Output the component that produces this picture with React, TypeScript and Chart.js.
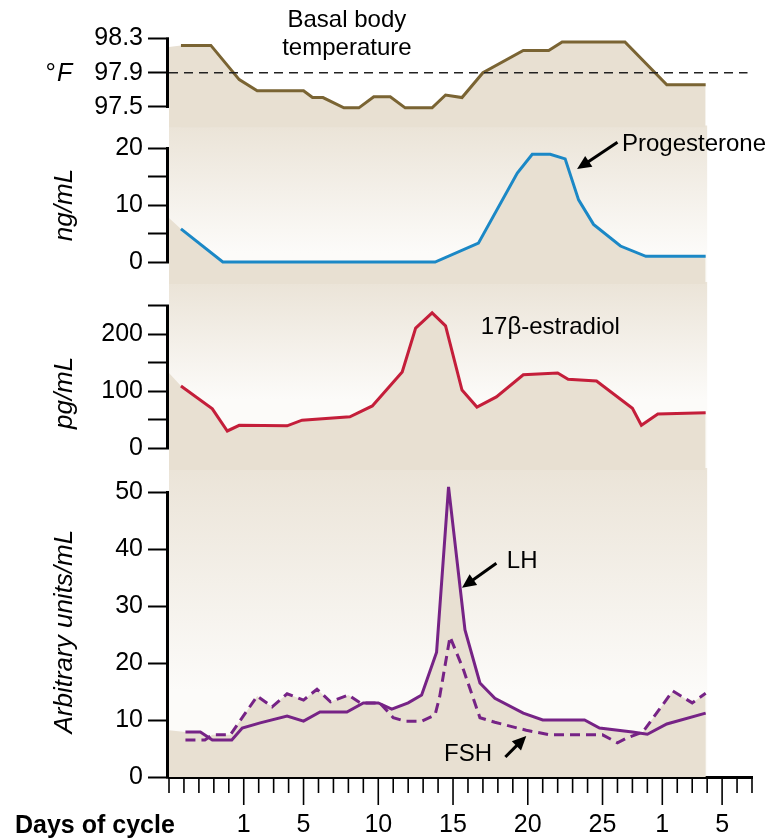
import React, { useEffect, useRef } from "react";
import { Chart, registerables } from "chart.js";

Chart.register(...registerables);

const FONT = "'Liberation Sans', Arial, Helvetica, sans-serif";

// x axis: day index, 0 = day 1 of the cycle, 28 = day 1 of next cycle
const axisStart = -5;
const axisEnd = 34;
const panelEnd = 31;
const majorTickDays = [0, 4, 9, 14, 19, 24, 28, 32];
const majorTickLabels = ["1", "5", "10", "15", "20", "25", "1", "5"];

// Basal body temperature (°F)
const tempDays = [-4.2, -2.2, -0.3, 0.9, 4.0, 4.6, 5.3, 6.7, 7.7, 8.7, 9.8, 10.8, 12.6, 13.5, 14.6, 16.0, 18.7, 20.4, 21.3, 25.5, 28.3, 30.9];
const tempValues = [98.22, 98.22, 97.82, 97.69, 97.69, 97.61, 97.61, 97.49, 97.49, 97.62, 97.62, 97.49, 97.49, 97.64, 97.61, 97.9, 98.16, 98.16, 98.26, 98.26, 97.76, 97.76];
const tempEdge = 98.2;
const tempRef = 97.9;
const tempTicks = [97.5, 97.9, 98.3];

// Progesterone (ng/mL)
const progDays = [-4.2, -1.4, 12.8, 15.7, 18.3, 19.3, 20.5, 21.5, 22.4, 23.4, 25.2, 26.9, 30.9];
const progValues = [5.8, 0, 0, 3.3, 15.6, 18.9, 18.9, 18.1, 10.9, 6.6, 2.8, 1.0, 1.0];
const progEdge = 7.7;
const progTicks = [0, 5, 10, 15, 20];
const progLabeled = [0, 10, 20];

// 17β-estradiol (pg/mL)
const estrDays = [-4.2, -2.1, -1.1, -0.3, 2.9, 3.9, 7.1, 8.6, 10.6, 11.5, 12.6, 13.5, 14.6, 15.6, 16.9, 18.7, 21.0, 21.7, 23.6, 26.0, 26.6, 27.7, 30.9];
const estrValues = [109, 69, 30, 40, 39, 49, 55, 74, 134, 211, 238, 215, 102, 72, 90, 129, 132, 121, 118, 70, 40, 60, 62];
const estrEdge = 132;
const estrTicks = [0, 50, 100, 150, 200, 250];
const estrLabeled = [0, 100, 200];

// LH (arbitrary units/mL)
const lhDays = [-3.9, -2.9, -2.1, -0.8, -0.1, 1.1, 2.9, 4.0, 5.1, 6.9, 8.0, 9.0, 9.9, 11.0, 11.9, 12.9, 13.7, 14.8, 15.8, 16.8, 18.7, 20.0, 22.8, 23.8, 26.0, 27.0, 28.3, 30.9];
const lhValues = [7.9, 7.9, 6.5, 6.5, 8.6, 9.5, 10.7, 9.8, 11.4, 11.4, 13.0, 13.0, 11.9, 13.0, 14.4, 21.9, 50.9, 25.8, 16.5, 13.8, 11.2, 10.0, 10.0, 8.6, 7.9, 7.5, 9.3, 11.2];
const lhEdge = 8.2;

// FSH (arbitrary units/mL)
const fshDays = [-3.9, -2.6, -2.1, -0.9, 0.9, 1.9, 2.9, 4.0, 4.9, 5.8, 7.0, 7.8, 9.1, 10.0, 10.8, 11.9, 12.8, 13.1, 13.8, 14.7, 15.8, 16.8, 18.9, 20.5, 24.0, 25.0, 25.6, 26.7, 28.7, 30.0, 30.9];
const fshValues = [6.5, 6.5, 7.4, 7.4, 14.2, 12.3, 14.6, 13.5, 15.4, 13.2, 14.4, 13.0, 13.0, 10.4, 9.8, 9.8, 10.9, 14.0, 24.6, 18.8, 10.4, 9.6, 8.2, 7.4, 7.4, 6.0, 6.8, 7.9, 15.1, 13.0, 14.7];
const gonTicks = [0, 10, 20, 30, 40, 50];

const BEIGE = "#e8e0d2";
const GRAD_TOP = "#ebe4d8";
const GRAD_BOTTOM = "#fcfbf9";

const pts = (d: number[], v: number[]) => d.map((x, i) => ({ x, y: v[i] }));

function lineDs(label: string, data: any[], axis: string, color: string, dash: number[] = []) {
  return {
    label,
    data,
    yAxisID: axis,
    borderColor: color,
    borderWidth: 3,
    borderDash: dash,
    pointRadius: 0,
    fill: "start",
    backgroundColor: BEIGE,
    tension: 0,
  };
}

function edgeDs(axis: string, edge: number, days: number[], values: number[]) {
  return {
    label: axis + "-edge",
    data: [{ x: axisStart, y: edge }, { x: days[0], y: values[0] }, { x: days[1], y: values[1] }],
    yAxisID: axis,
    borderColor: BEIGE,
    borderWidth: 0,
    pointRadius: 0,
    fill: "start",
    backgroundColor: BEIGE,
  };
}

function yScale(ticksArr: number[], labeled: number[], min: number, max: number, weight: number, stackWeight: number, fmt: (v: number) => string) {
  return {
    type: "linear",
    position: "left",
    stack: "panels",
    stackWeight,
    weight,
    min,
    max,
    border: { display: false },
    grid: { drawOnChartArea: false, drawTicks: true, tickLength: 21, tickWidth: 2, tickColor: "#000" },
    ticks: {
      autoSkip: false,
      font: { size: 25, family: FONT },
      color: "#000",
      padding: 5,
      callback: (v: number) => (labeled.includes(v) ? fmt(v) : ""),
    },
    afterBuildTicks: (s: any) => {
      s.ticks = ticksArr.map((v) => ({ value: v }));
    },
    afterFit: (s: any) => {
      s.width = 169;
    },
  };
}

function arrow(ctx: CanvasRenderingContext2D, x1: number, y1: number, x2: number, y2: number) {
  const ang = Math.atan2(y2 - y1, x2 - x1);
  const hl = 14;
  const hw = 6.5;
  ctx.strokeStyle = "#000";
  ctx.fillStyle = "#000";
  ctx.lineWidth = 3;
  ctx.beginPath();
  ctx.moveTo(x1, y1);
  ctx.lineTo(x2 - hl * 0.8 * Math.cos(ang), y2 - hl * 0.8 * Math.sin(ang));
  ctx.stroke();
  ctx.beginPath();
  ctx.moveTo(x2, y2);
  ctx.lineTo(x2 - hl * Math.cos(ang) + hw * Math.sin(ang), y2 - hl * Math.sin(ang) - hw * Math.cos(ang));
  ctx.lineTo(x2 - hl * Math.cos(ang) - hw * Math.sin(ang), y2 - hl * Math.sin(ang) + hw * Math.cos(ang));
  ctx.closePath();
  ctx.fill();
}

const decor = {
  id: "decor",
  beforeDraw(chart: any) {
    const { ctx, chartArea, scales } = chart;
    const x0 = chartArea.left;
    const x1 = scales.x.getPixelForValue(panelEnd);
    const stops: Record<string, number> = { prog: 0.8, estr: 0.62, lh: 0.72 };
    ctx.save();
    for (const id of ["prog", "estr", "lh"]) {
      const s = scales[id];
      const g = ctx.createLinearGradient(0, s.top, 0, s.bottom);
      g.addColorStop(0, GRAD_TOP);
      g.addColorStop(stops[id], GRAD_BOTTOM);
      g.addColorStop(1, GRAD_BOTTOM);
      ctx.fillStyle = g;
      ctx.fillRect(x0, s.top - 2, x1 - x0, s.bottom - s.top + 2);
    }
    ctx.restore();
  },
  afterDraw(chart: any) {
    const { ctx, chartArea, scales } = chart;
    const X = (v: number) => scales.x.getPixelForValue(v);
    const Y = (id: string, v: number) => scales[id].getPixelForValue(v);
    ctx.save();
    // y axis lines per panel
    ctx.strokeStyle = "#000";
    ctx.lineWidth = 3;
    const axes: [string, number[]][] = [
      ["temp", tempTicks],
      ["prog", progTicks],
      ["estr", estrTicks],
      ["lh", gonTicks],
    ];
    for (const [id, t] of axes) {
      ctx.beginPath();
      const top = Y(id, t[t.length - 1]);
      const bot = Y(id, t[0]);
      ctx.moveTo(chartArea.left - 1.5, top - 1);
      ctx.lineTo(chartArea.left - 1.5, id === "lh" ? bot + 1.5 : bot + 1);
      ctx.stroke();
    }
    // x tick marks
    ctx.lineWidth = 1.6;
    const base = scales.x.top;
    for (let d = axisStart; d <= axisEnd; d++) {
      const major = majorTickDays.includes(d);
      const px = X(d);
      ctx.beginPath();
      ctx.moveTo(px, base);
      ctx.lineTo(px, base + (major ? 28 : 16));
      ctx.stroke();
    }
    // axis titles
    ctx.fillStyle = "#000";
    ctx.textBaseline = "middle";
    ctx.font = `bold 25px ${FONT}`;
    ctx.textAlign = "left";
    ctx.fillText("Days of cycle", 15, 826);

    ctx.font = `italic 25px ${FONT}`;
    ctx.textAlign = "left";
    ctx.fillText("F", 57, Y("temp", 97.9) + 1);
    ctx.font = `26px ${FONT}`;
    ctx.textAlign = "right";
    ctx.fillText("°", 56, Y("temp", 97.9) + 1);

    const rotTitle = (text: string, cy: number) => {
      ctx.save();
      ctx.translate(65, cy);
      ctx.rotate(-Math.PI / 2);
      ctx.font = `italic 26px ${FONT}`;
      ctx.textAlign = "center";
      ctx.textBaseline = "middle";
      ctx.fillText(text, 0, 0);
      ctx.restore();
    };
    rotTitle("ng/mL", Y("prog", 10));
    rotTitle("pg/mL", Y("estr", 97));
    rotTitle("Arbitrary units/mL", Y("lh", 25.5));

    // annotations
    ctx.font = `24px ${FONT}`;
    ctx.textAlign = "center";
    ctx.textBaseline = "middle";
    ctx.fillText("Basal body", X(6.9), Y("temp", 98.515));
    ctx.fillText("temperature", X(6.9), Y("temp", 98.19));

    ctx.textAlign = "left";
    ctx.fillText("Progesterone", X(25.3), Y("prog", 20.7));
    arrow(ctx, X(25.0), Y("prog", 21.0), X(22.3), Y("prog", 16.3));

    ctx.fillText("17β-estradiol", X(15.85), Y("estr", 213));

    ctx.fillText("LH", X(17.6), Y("lh", 37.9));
    arrow(ctx, X(16.9), Y("lh", 37.5), X(14.6), Y("lh", 33.2));

    ctx.fillText("FSH", X(13.4), Y("lh", 3.9));
    arrow(ctx, X(17.5), Y("lh", 3.5), X(18.9), Y("lh", 7.2));
    ctx.restore();
  },
};

export default function App() {
  const ref = useRef<HTMLCanvasElement>(null);
  useEffect(() => {
    const canvas = ref.current!;
    Chart.defaults.font.family = FONT;
    const chart = new Chart(canvas, {
      type: "line",
      data: {
        datasets: [
          edgeDs("temp", tempEdge, tempDays, tempValues),
          edgeDs("prog", progEdge, progDays, progValues),
          edgeDs("estr", estrEdge, estrDays, estrValues),
          edgeDs("lh", lhEdge, lhDays, lhValues),
          {
            label: "97.9 reference",
            data: [{ x: axisStart, y: tempRef }, { x: 33.7, y: tempRef }],
            yAxisID: "temp",
            borderColor: "#222",
            borderWidth: 1.3,
            borderDash: [9, 6],
            pointRadius: 0,
            fill: false,
          },
          lineDs("Basal body temperature", pts(tempDays, tempValues), "temp", "#7a6433"),
          lineDs("Progesterone", pts(progDays, progValues), "prog", "#1b88c6"),
          lineDs("17β-estradiol", pts(estrDays, estrValues), "estr", "#c41e3a"),
          lineDs("FSH", pts(fshDays, fshValues), "lh", "#762386", [10, 6]),
          lineDs("LH", pts(lhDays, lhValues), "lh", "#762386"),
        ] as any,
      },
      options: {
        responsive: false,
        animation: false,
        devicePixelRatio: 1,
        layout: { padding: { top: 30, right: 28, left: 0, bottom: 0 } },
        plugins: {
          legend: { display: false },
          tooltip: { enabled: false },
          filler: { drawTime: "beforeDatasetsDraw" },
        },
        scales: {
          x: {
            type: "linear",
            position: "bottom",
            min: axisStart,
            max: axisEnd,
            border: { display: true, color: "#000", width: 3 },
            grid: { display: true, drawOnChartArea: false, drawTicks: false },
            ticks: {
              autoSkip: false,
              maxRotation: 0,
              padding: 33,
              font: { size: 25, family: FONT },
              color: "#000",
              callback: (v: number) => {
                const i = majorTickDays.indexOf(v);
                return i >= 0 ? majorTickLabels[i] : "";
              },
            },
            afterBuildTicks: (s: any) => {
              s.ticks = majorTickDays.map((v) => ({ value: v }));
            },
            afterFit: (s: any) => {
              s.height = 62;
            },
          },
          temp: yScale(tempTicks, tempTicks, 97.26, 98.4, 4, 97.5, (v) => v.toFixed(1)),
          prog: yScale(progTicks, progLabeled, -3.86, 23.6, 3, 156.5, (v) => String(v)),
          estr: yScale(estrTicks, estrLabeled, -38.7, 288.7, 2, 186, (v) => String(v)),
          lh: yScale(gonTicks, gonTicks, 0, 53.86, 1, 307, (v) => String(v)),
        } as any,
      },
      plugins: [decor],
    });
    return () => chart.destroy();
  }, []);
  return (
    <div style={{ position: "absolute", left: 0, top: 0, width: 780, height: 839 }}>
      <canvas ref={ref} width={780} height={839} style={{ display: "block", width: 780, height: 839 }} />
    </div>
  );
}
